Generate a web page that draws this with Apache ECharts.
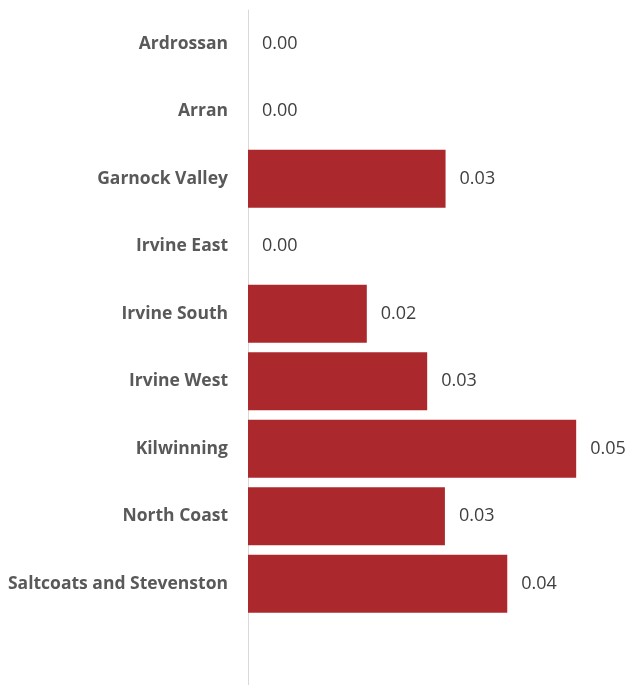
<!DOCTYPE html>
<html>
<head>
<meta charset="utf-8">
<script src="https://cdn.jsdelivr.net/npm/echarts@6/dist/echarts.min.js"></script>
<style>html,body{margin:0;padding:0;background:#fff}#c{width:629px;height:685px}</style>
</head>
<body>
<div id="c"></div>
<script>
var categories = ['Ardrossan','Arran','Garnock Valley','Irvine East','Irvine South','Irvine West','Kilwinning','North Coast','Saltcoats and Stevenston',''];
var values = [0.0, 0.0, 0.0301, 0.0, 0.0181, 0.0273, 0.05, 0.030, 0.0395, null];

var chart = echarts.init(document.getElementById('c'));
chart.setOption({
  animation: false,
  grid: {left: 248, right: 20, top: 10, bottom: 0, containLabel: false},
  xAxis: {type: 'value', min: 0, max: 0.055, show: false},
  yAxis: {
    type: 'category', data: categories, inverse: true,
    axisLine: {show: true, lineStyle: {color: '#d9d9d9', width: 1}},
    axisTick: {show: false},
    axisLabel: {color: '#595959', fontWeight: 'bold', fontSize: 17.5, fontFamily: 'Open Sans', margin: 20, padding: [4, 0, 0, 0]}
  },
  series: [{
    type: 'bar', data: values, barCategoryGap: '14%',
    itemStyle: {color: '#ab292c'},
    label: {show: true, position: 'right', distance: 14, color: '#404040', fontSize: 18, fontFamily: 'Open Sans', padding: [4, 0, 0, 0],
      formatter: function(p){ return p.value == null ? '' : p.value.toFixed(2); }}
  }]
});
</script>
</body>
</html>
